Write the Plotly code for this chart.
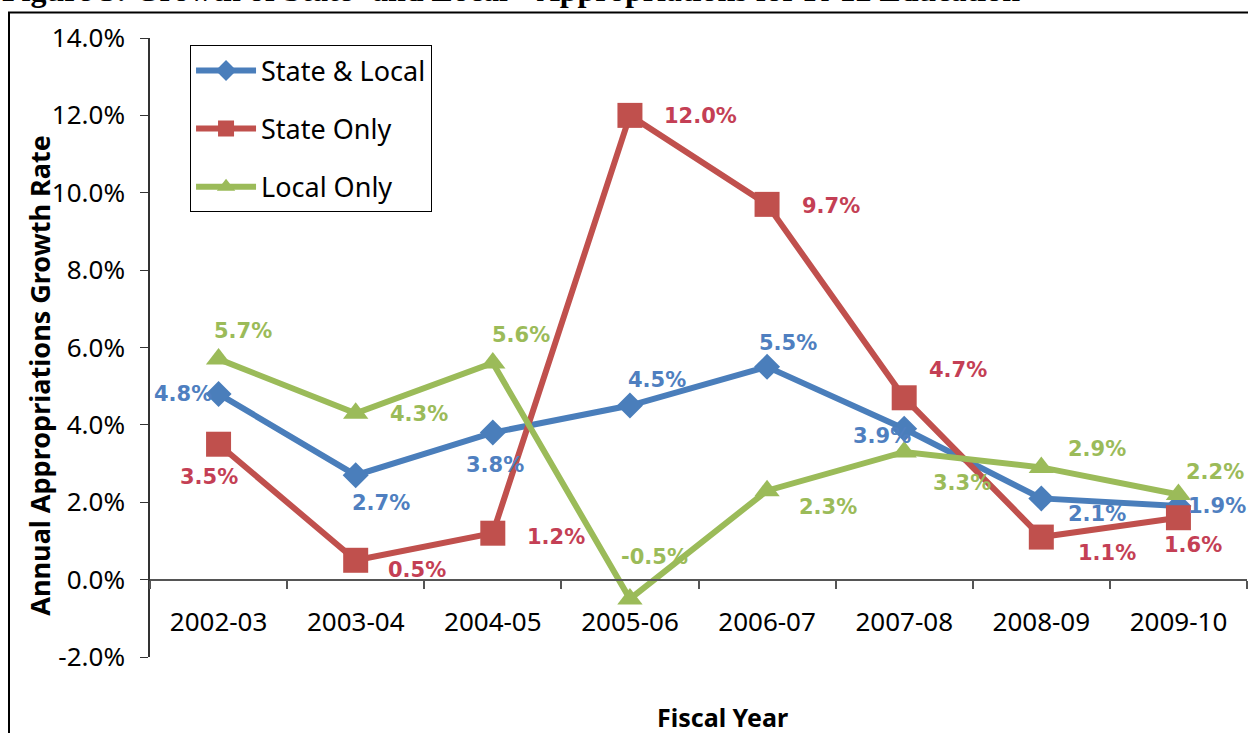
import plotly.graph_objects as go

# Fiscal years and annual appropriation growth rates (%)
years = ["2002-03", "2003-04", "2004-05", "2005-06", "2006-07", "2007-08", "2008-09", "2009-10"]
state_local = [4.8, 2.7, 3.8, 4.5, 5.5, 3.9, 2.1, 1.9]
state_only = [3.5, 0.5, 1.2, 12.0, 9.7, 4.7, 1.1, 1.6]
local_only = [5.7, 4.3, 5.6, -0.5, 2.3, 3.3, 2.9, 2.2]
y_ticks = [-2, 0, 2, 4, 6, 8, 10, 12, 14]

# Label offsets (pixels, right / down) for each data label
off_state_local = [(-36, 0), (25, 28), (2, 32), (27, -26), (21, -24), (-22, 7), (56, 16), (39, 0)]
off_state_only = [(-10, 33), (61, 10), (63, 4), (71, 1), (64, 2), (54, -28), (66, 16), (15, 27)]
off_local_only = [(24, -28), (63, 1), (28, -28), (25, -42), (61, 16), (58, 31), (56, -18), (37, -23)]

series = [
    ("State & Local", state_local, "#4A7EBB", "#4F7FC0", "diamond", 20, off_state_local),
    ("State Only", state_only, "#C0504D", "#C43F55", "square", 25, off_state_only),
    ("Local Only", local_only, "#9BBB59", "#9BBB59", "triangle-up", 22, off_local_only),
]

TICK_FONT = "Noto Sans, Liberation Sans, sans-serif"
LABEL_FONT = "DejaVu Sans, Verdana, sans-serif"

fig = go.Figure()
annotations = []
for name, vals, line_col, text_col, sym, msize, offs in series:
    fig.add_trace(go.Scatter(
        x=years, y=vals, name=name, legendgroup=name,
        mode="lines+markers",
        line=dict(color=line_col, width=6),
        marker=dict(symbol=sym, size=msize, color=line_col),
        cliponaxis=False,
    ))
    for yr, v, (dx, dy) in zip(years, vals, offs):
        annotations.append(dict(
            x=yr, y=v, xref="x", yref="y", showarrow=False,
            text=f"<b>{v:.1f}%</b>", xshift=dx, yshift=-dy,
            font=dict(family=LABEL_FONT, size=21, color=text_col),
        ))

# Axis titles and figure caption
annotations.append(dict(
    text="<b>Annual Appropriations Growth Rate</b>", textangle=-90,
    xref="paper", yref="paper", x=-0.1003, y=0.456,
    xanchor="center", yanchor="middle", showarrow=False,
    font=dict(family=TICK_FONT, size=27, color="black"),
))
annotations.append(dict(
    text="<b>Fiscal Year</b>", xref="paper", yref="paper",
    x=0.5223, y=-0.097, xanchor="center", yanchor="middle", showarrow=False,
    font=dict(family=TICK_FONT, size=25, color="black"),
))
annotations.append(dict(
    text="<b>Figure 3: Growth of State<sup>9</sup> and Local<sup>10</sup> Appropriations for K-12 Education</b>",
    xref="paper", yref="paper", x=-0.1367, y=1.081, xanchor="left", yanchor="middle",
    showarrow=False,
    font=dict(family="Liberation Serif, Times New Roman, serif", size=32, color="black"),
))

fig.update_layout(
    width=1248, height=733,
    margin=dict(l=150, r=1, t=38, b=76),
    paper_bgcolor="white", plot_bgcolor="white",
    showlegend=True,
    legend=dict(
        x=0.0365, y=0.988, xanchor="left", yanchor="top",
        bordercolor="black", borderwidth=1, bgcolor="white",
        font=dict(family=TICK_FONT, size=27, color="black"),
        tracegroupgap=20, itemwidth=60,
    ),
    annotations=annotations,
    shapes=[dict(type="rect", xref="paper", yref="paper",
                 x0=(9 - 150) / 1097, x1=1.02, y0=-0.2, y1=(657 - 13) / 618.5,
                 line=dict(color="black", width=2), layer="below")],
)

fig.update_xaxes(
    type="category", categoryorder="array", categoryarray=years,
    range=[-0.5, 7.5], anchor="free", position=0.125,
    showline=True, linecolor="#555555", linewidth=2,
    ticks="outside", tickson="boundaries", ticklen=8, tickcolor="#555555", tickwidth=2,
    tickfont=dict(family=TICK_FONT, size=26, color="black"),
    ticklabelstandoff=19,
    showgrid=False, zeroline=False,
)
fig.update_yaxes(
    range=[-2, 14], tickvals=y_ticks, ticktext=[f"{t:.1f}%" for t in y_ticks],
    showline=True, linecolor="#333333", linewidth=1.5,
    ticks="outside", ticklen=8, tickcolor="#333333",
    tickfont=dict(family=TICK_FONT, size=26, color="black"),
    ticklabelstandoff=10,
    showgrid=False, zeroline=False,
)

fig.write_html("out.html")
